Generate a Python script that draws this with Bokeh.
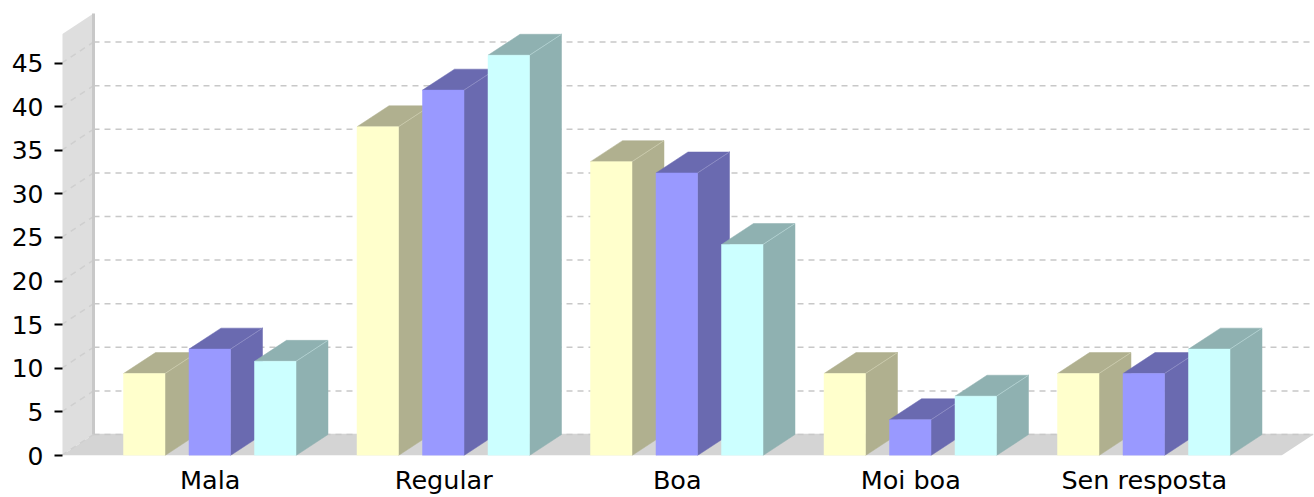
from bokeh.plotting import figure
from bokeh.models import Range1d, FixedTicker
from bokeh.embed import file_html
from bokeh.resources import INLINE

categories = ["Mala", "Regular", "Boa", "Moi boa", "Sen resposta"]
series_a = [9.4, 37.7, 33.7, 9.4, 9.4]
series_b = [12.2, 41.9, 32.4, 4.1, 9.4]
series_c = [10.8, 45.9, 24.2, 6.8, 12.2]
y_ticks = [0, 5, 10, 15, 20, 25, 30, 35, 40, 45]

front_colors = ["#ffffcc", "#9999ff", "#ccffff"]
side_colors = ["#b0b08f", "#6a6ab0", "#8fb1b1"]
ridge_colors = ["#c9c9ab", "#8c8cc4", "#b0cfcf"]

PX_X = 233.5   # px per category
PX_Y = 8.73    # px per value unit
DX = 32 / PX_X
DY = 21 / PX_Y
BAR_W = 41.5 / PX_X
STEP = 65.5 / PX_X
SHIFT = -0.5 / PX_X
WALL_LEFT = -DX
WALL_TOP = 442.5 / PX_Y
FLOOR_RIGHT = 1188 / PX_X

p = figure(width=1314, height=497, output_backend="svg", toolbar_location=None,
           x_range=Range1d(-31 / PX_X, (1313 - 93) / PX_X),
           y_range=Range1d(0, (455.5 - 10) / PX_Y),
           min_border_left=62, min_border_right=1, min_border_top=10, min_border_bottom=41,
           outline_line_color=None, background_fill_color="white")
p.grid.grid_line_color = None

# Left wall and floor
p.patch([WALL_LEFT, 0, 0, WALL_LEFT], [0, DY, WALL_TOP, WALL_TOP - DY],
        fill_color="#dedede", line_color=None)
p.patch([WALL_LEFT, 0, FLOOR_RIGHT + DX, FLOOR_RIGHT], [0, DY, DY, 0],
        fill_color="#d4d4d4", line_color=None)
p.line([0, FLOOR_RIGHT + DX], [DY, DY], line_color="#d4d4d4", line_width=1.5)

# Dashed grid lines on back plane and wall
for t in y_ticks:
    p.line([WALL_LEFT, 0], [t, t + DY], line_color="#cfcfcf", line_width=1.5, line_dash="6 5")
    p.line([0, FLOOR_RIGHT + DX], [t + DY, t + DY], line_color="#c8c8c8", line_width=1.5, line_dash="6 5")
p.line([0, 0], [DY, WALL_TOP], line_color="#c8c8c8", line_width=3)

# 3D bars
for i, cat in enumerate(categories):
    centre = i + 0.5 + SHIFT
    for j, vals in enumerate((series_a, series_b, series_c)):
        v = vals[i]
        x0 = centre + (j - 1) * STEP - BAR_W / 2
        x1 = x0 + BAR_W
        p.patch([x1, x1 + DX, x1 + DX, x1], [0, DY, v + DY, v],
                fill_color=side_colors[j], line_color=side_colors[j], line_width=0.5)
        p.patch([x0, x1, x1 + DX, x0 + DX], [v, v, v + DY, v + DY],
                fill_color=side_colors[j], line_color=side_colors[j], line_width=0.5)
        p.line([x1, x1 + DX], [v, v + DY], line_color=ridge_colors[j], line_width=1)
        p.quad(left=[x0], right=[x1], bottom=[0], top=[v],
               fill_color=front_colors[j], line_color=front_colors[j], line_width=0.5)

# Axes
yax = p.yaxis[0]
yax.ticker = FixedTicker(ticks=y_ticks)
yax.axis_line_color = None
yax.major_tick_out = 8
yax.major_tick_in = 0
yax.major_tick_line_color = "black"
yax.major_tick_line_width = 2
yax.minor_tick_line_color = None
yax.major_label_text_font = "DejaVu Sans"
yax.major_label_text_font_size = "25px"
yax.major_label_text_color = "black"
yax.major_label_standoff = 11

xax = p.xaxis[0]
xax.ticker = FixedTicker(ticks=[i + 0.5 for i in range(len(categories))])
xax.major_label_overrides = {i + 0.5: c for i, c in enumerate(categories)}
xax.axis_line_color = None
xax.major_tick_in = 0
xax.major_tick_out = 0
xax.major_tick_line_color = None
xax.minor_tick_line_color = None
xax.major_label_text_font = "DejaVu Sans"
xax.major_label_text_font_size = "25.5px"
xax.major_label_text_color = "black"
xax.major_label_standoff = 9

open("out.html", "w").write(file_html(p, INLINE))
